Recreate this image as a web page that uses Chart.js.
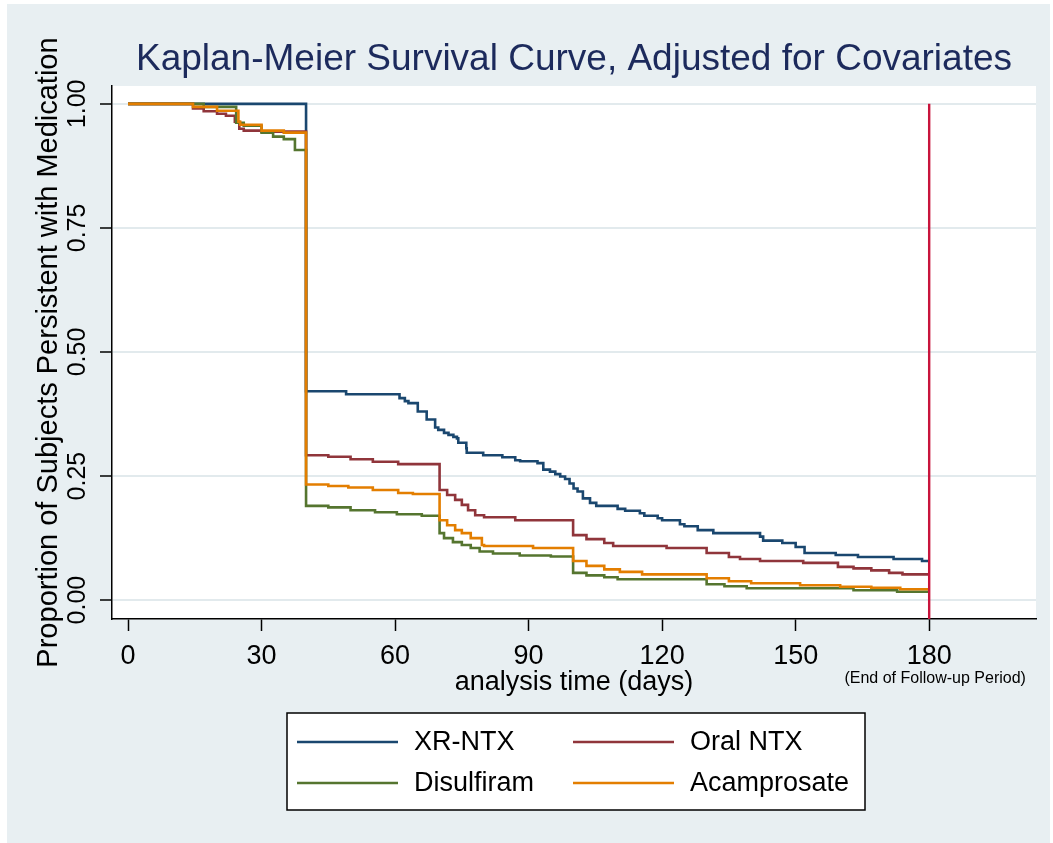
<!DOCTYPE html>
<html>
<head>
<meta charset="utf-8">
<script src="https://cdn.jsdelivr.net/npm/chart.js@4/dist/chart.umd.min.js"></script>
<style>
html,body{margin:0;padding:0;background:#fff;}
canvas{display:block;}
</style>
</head>
<body>
<canvas id="c" width="1053" height="843"></canvas>
<script>
// ---- Data ----
const seriesLabels = ['XR-NTX', 'Oral NTX', 'Disulfiram', 'Acamprosate'];

const xrTime = [0, 40, 49, 61, 62.2, 63, 65.1, 67.1, 69, 69.7, 71, 72, 73.1, 73.9, 74.2, 76, 76.1, 79.8, 84.1, 87, 88.1, 92, 93.3, 94.8, 96, 97.1, 98.2, 99.2, 100.1, 101, 102.2, 103.8, 105.2, 110, 111.7, 115, 116, 119, 120, 124, 125, 128, 131.5, 142, 142.7, 147, 150, 152, 159, 164, 172, 178.4, 180];
const xrSurv = [1, 0.421, 0.415, 0.407, 0.401, 0.397, 0.380, 0.364, 0.348, 0.343, 0.337, 0.333, 0.329, 0.326, 0.317, 0.306, 0.297, 0.292, 0.288, 0.282, 0.280, 0.276, 0.263, 0.259, 0.254, 0.249, 0.244, 0.235, 0.225, 0.219, 0.205, 0.196, 0.190, 0.184, 0.180, 0.175, 0.170, 0.165, 0.161, 0.153, 0.149, 0.141, 0.135, 0.128, 0.120, 0.115, 0.107, 0.095, 0.091, 0.087, 0.083, 0.079, 0.079];

const oralTime = [0, 14.6, 17, 20, 22, 24, 25, 26, 30, 40, 45, 50, 55, 60.7, 70, 71.7, 73.5, 75, 76.4, 78, 80, 87, 100, 103, 107, 109, 121, 130, 135, 137.5, 142, 151.7, 159.5, 163, 167, 171, 174, 180];
const oralSurv = [1, 0.991, 0.985, 0.980, 0.976, 0.964, 0.950, 0.946, 0.944, 0.292, 0.289, 0.284, 0.279, 0.274, 0.222, 0.212, 0.202, 0.192, 0.181, 0.171, 0.167, 0.161, 0.131, 0.123, 0.115, 0.109, 0.105, 0.095, 0.087, 0.083, 0.079, 0.075, 0.067, 0.064, 0.060, 0.055, 0.052, 0.052];

const disTime = [0, 17, 24.3, 26, 30, 32.6, 35, 37.5, 40, 45, 50, 55.5, 60.4, 66, 70, 71, 73, 75, 77, 79, 82, 88, 95, 100, 103, 107, 110, 130, 134, 139, 163, 172.8, 180];
const disSurv = [1, 0.994, 0.962, 0.956, 0.942, 0.934, 0.929, 0.907, 0.190, 0.187, 0.181, 0.177, 0.173, 0.170, 0.135, 0.125, 0.117, 0.111, 0.105, 0.098, 0.094, 0.090, 0.088, 0.055, 0.050, 0.046, 0.042, 0.032, 0.028, 0.024, 0.020, 0.017, 0.017];

const acaTime = [0, 14.6, 20, 24.8, 25.2, 30, 35, 40, 45, 49.5, 55, 60.7, 64, 70, 71.7, 73.5, 75, 77, 79.5, 80, 91, 100, 103, 107, 110.5, 115.5, 130, 135, 140, 151, 160, 167, 173.5, 180];
const acaSurv = [1, 0.994, 0.986, 0.964, 0.958, 0.946, 0.942, 0.233, 0.230, 0.227, 0.222, 0.216, 0.214, 0.161, 0.151, 0.141, 0.135, 0.125, 0.111, 0.109, 0.105, 0.079, 0.069, 0.062, 0.057, 0.052, 0.044, 0.038, 0.034, 0.030, 0.027, 0.025, 0.022, 0.022];

const endOfFollowUp = 180;
const xTicks = [0, 30, 60, 90, 120, 150, 180];
const yTicks = [0, 0.25, 0.5, 0.75, 1];
const xRange = [-3.6, 204];
const yRange = [-0.038, 1.036];

const titleText = 'Kaplan-Meier Survival Curve, Adjusted for Covariates';
const xTitle = 'analysis time (days)';
const yTitle = 'Proportion of Subjects Persistent with Medication';
const endNote = '(End of Follow-up Period)';

// ---- Styles ----
const colors = ['#1a476f', '#90353b', '#55752f', '#e37e00'];
const refColor = '#c8143c';
const bgColor = '#e8eff2';
const gridColor = '#e2eaed';
const titleColor = '#1c2a5c';
const FONT = "'Liberation Sans', Arial, Helvetica, sans-serif";

const toPts = (t, s) => t.map((x, i) => ({x: x, y: s[i]}));

const curveSets = [
  {t: xrTime, s: xrSurv},
  {t: oralTime, s: oralSurv},
  {t: disTime, s: disSurv},
  {t: acaTime, s: acaSurv}
];
const drawOrder = [4, 3, 2, 1]; // later series on top

const datasets = curveSets.map((c, i) => ({
  label: seriesLabels[i],
  data: toPts(c.t, c.s),
  borderColor: colors[i],
  backgroundColor: colors[i],
  borderWidth: 2.6,
  stepped: 'before',
  pointRadius: 0,
  fill: false,
  order: drawOrder[i]
}));
datasets.push({
  label: 'end',
  data: [{x: endOfFollowUp, y: yTicks[yTicks.length - 1]}, {x: endOfFollowUp, y: yRange[0]}],
  borderColor: refColor,
  borderWidth: 2.4,
  pointRadius: 0,
  fill: false,
  order: 0
});

const bgPlugin = {
  id: 'bg',
  beforeDraw(chart) {
    const ctx = chart.ctx;
    const a = chart.chartArea;
    ctx.save();
    ctx.fillStyle = '#ffffff';
    ctx.fillRect(0, 0, chart.width, chart.height);
    ctx.fillStyle = bgColor;
    ctx.fillRect(7, 4, 1043, 839);
    ctx.fillStyle = '#ffffff';
    ctx.fillRect(a.left, a.top, a.right - a.left, a.bottom - a.top);
    ctx.restore();
  },
  afterDraw(chart) {
    const ctx = chart.ctx;
    const a = chart.chartArea;
    const xs = chart.scales.x;
    ctx.save();
    // title, centred over the plot region
    ctx.fillStyle = titleColor;
    ctx.font = '37px ' + FONT;
    ctx.textAlign = 'center';
    ctx.textBaseline = 'middle';
    ctx.fillText(titleText, (a.left + a.right) / 2, 60);

    // note under 180
    ctx.fillStyle = '#000';
    ctx.font = '16px ' + FONT;
    ctx.fillText(endNote, xs.getPixelForValue(endOfFollowUp) + 6, 679);

    // legend
    const bx = 287, by = 713, bw = 578, bh = 97;
    ctx.fillStyle = '#ffffff';
    ctx.fillRect(bx, by, bw, bh);
    ctx.strokeStyle = '#000';
    ctx.lineWidth = 1.5;
    ctx.strokeRect(bx, by, bw, bh);
    const cols = [297, 573];
    const rows = [742, 783];
    ctx.font = '27px ' + FONT;
    ctx.textAlign = 'left';
    ctx.textBaseline = 'middle';
    for (let i = 0; i < 4; i++) {
      const ds = chart.data.datasets[i];
      const cx = cols[i % 2], cy = rows[Math.floor(i / 2)];
      ctx.strokeStyle = ds.borderColor;
      ctx.lineWidth = 2.6;
      ctx.beginPath();
      ctx.moveTo(cx, cy);
      ctx.lineTo(cx + 101, cy);
      ctx.stroke();
      ctx.fillStyle = '#000';
      ctx.fillText(ds.label, cx + 117, cy + 1);
    }
    ctx.restore();
  }
};

Chart.defaults.font.family = FONT;
Chart.defaults.color = '#000';

new Chart(document.getElementById('c'), {
  type: 'line',
  data: {datasets: datasets},
  plugins: [bgPlugin],
  options: {
    responsive: false,
    animation: false,
    devicePixelRatio: 1,
    layout: {padding: {top: 86, left: 20, right: 17, bottom: 134}},
    plugins: {
      legend: {display: false},
      tooltip: {enabled: false},
      title: {display: false}
    },
    scales: {
      x: {
        type: 'linear',
        min: xRange[0],
        max: xRange[1],
        afterBuildTicks: (s) => { s.ticks = xTicks.map(v => ({value: v})); },
        afterFit: (s) => { s.height = 90; },
        ticks: {
          autoSkip: false, maxRotation: 0, minRotation: 0,
          padding: 9.8,
          font: {size: 27},
          callback: (v) => String(v)
        },
        grid: {drawOnChartArea: false, drawTicks: true, tickLength: 12, tickColor: '#000', tickWidth: 1.5},
        border: {display: true, color: '#000', width: 1.5},
        title: {display: true, text: xTitle, font: {size: 27}, padding: {top: 0, bottom: 9.8}}
      },
      y: {
        type: 'linear',
        min: yRange[0],
        max: yRange[1],
        afterBuildTicks: (s) => { s.ticks = yTicks.map(v => ({value: v})); },
        afterFit: (s) => { s.width = 92; },
        ticks: {
          autoSkip: false, minRotation: 90, maxRotation: 90,
          crossAlign: 'center',
          padding: -2,
          font: {size: 25},
          callback: (v) => Number(v).toFixed(2)
        },
        grid: {color: gridColor, lineWidth: 2, drawTicks: true, tickLength: 12, tickColor: '#000', tickWidth: 1.5},
        border: {display: true, color: '#000', width: 1.5},
        title: {display: true, text: yTitle, font: {size: 29}, padding: {top: 11.6, bottom: 0}}
      }
    }
  }
});
</script>
</body>
</html>
